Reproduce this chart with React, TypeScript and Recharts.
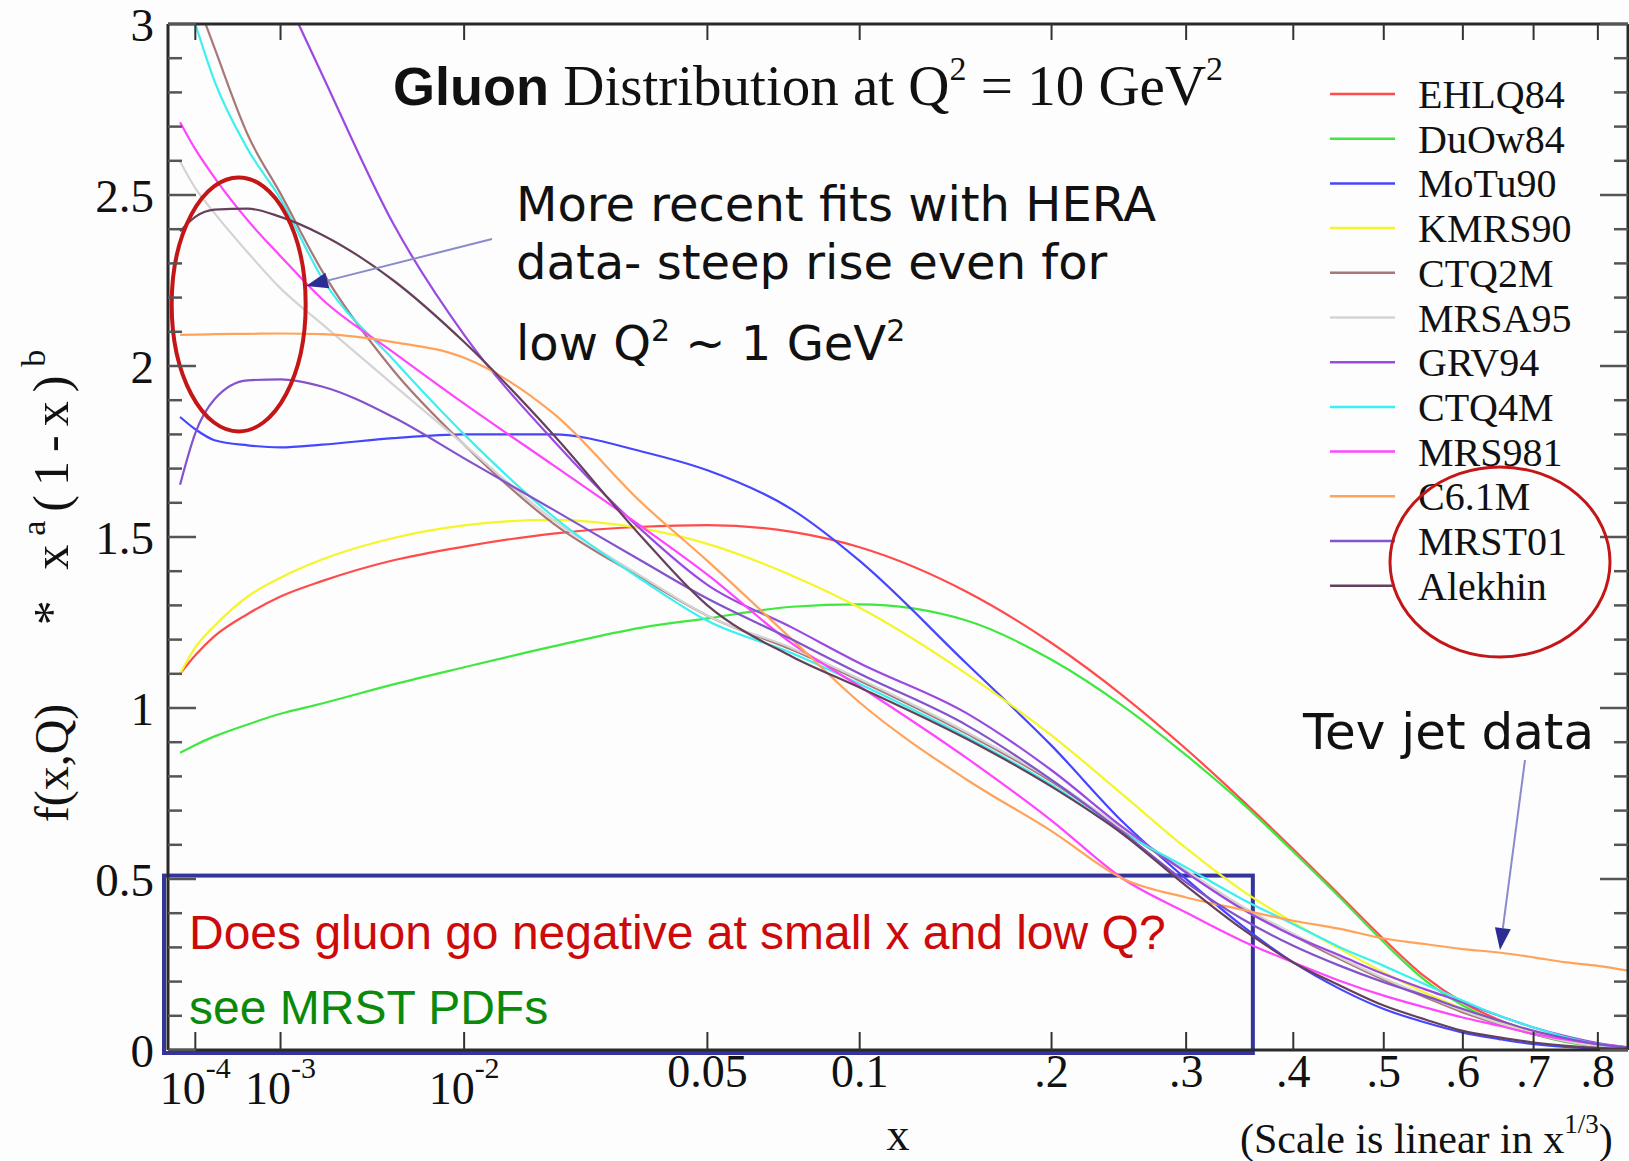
import React from 'react';
import { LineChart, Line, XAxis, YAxis, ReferenceArea, ReferenceDot } from 'recharts';

type Pt = [number, number];

// gluon x*g(x) at Q^2 = 10 GeV^2, points are [x, value]
const ehlq84: Pt[] = [
  [5e-5, 1.1], [1e-4, 1.154], [2e-4, 1.21], [5e-4, 1.275], [1e-3, 1.326], [2e-3, 1.371], [5e-3, 1.432],
  [0.01, 1.472], [0.02, 1.51], [0.035, 1.53], [0.05, 1.535], [0.075, 1.515], [0.1, 1.47], [0.15, 1.34],
  [0.2, 1.19], [0.25, 1.035], [0.3, 0.88], [0.35, 0.73], [0.4, 0.587], [0.45, 0.451], [0.5, 0.324],
  [0.55, 0.215], [0.6, 0.139], [0.65, 0.088], [0.7, 0.052], [0.75, 0.027], [0.8, 0.012], [0.85, 0.005],
];
const duow84: Pt[] = [
  [5e-5, 0.869], [1e-4, 0.892], [2e-4, 0.917], [5e-4, 0.952], [1e-3, 0.983], [2e-3, 1.013], [5e-3, 1.069],
  [0.01, 1.119], [0.02, 1.18], [0.035, 1.235], [0.05, 1.262], [0.075, 1.296], [0.1, 1.303], [0.15, 1.256],
  [0.2, 1.141], [0.25, 1.005], [0.3, 0.862], [0.35, 0.722], [0.4, 0.58], [0.45, 0.445], [0.5, 0.315],
  [0.55, 0.205], [0.6, 0.13], [0.65, 0.08], [0.7, 0.046], [0.75, 0.023], [0.8, 0.01], [0.85, 0.004],
];
const motu90: Pt[] = [
  [5e-5, 1.851], [1e-4, 1.815], [2e-4, 1.783], [5e-4, 1.768], [1e-3, 1.762], [2e-3, 1.77], [5e-3, 1.789],
  [0.01, 1.8], [0.02, 1.8], [0.035, 1.75], [0.05, 1.695], [0.075, 1.58], [0.1, 1.43], [0.15, 1.13],
  [0.2, 0.89], [0.25, 0.665], [0.3, 0.5], [0.35, 0.363], [0.4, 0.256], [0.45, 0.178], [0.5, 0.12],
  [0.55, 0.081], [0.6, 0.051], [0.65, 0.032], [0.7, 0.017], [0.75, 0.009], [0.8, 0.004], [0.85, 0.002],
];
const kmrs90: Pt[] = [
  [5e-5, 1.1], [1e-4, 1.177], [2e-4, 1.24], [5e-4, 1.326], [1e-3, 1.381], [2e-3, 1.434], [5e-3, 1.497],
  [0.01, 1.534], [0.02, 1.55], [0.035, 1.525], [0.05, 1.48], [0.075, 1.387], [0.1, 1.293], [0.15, 1.1],
  [0.2, 0.92], [0.25, 0.745], [0.3, 0.59], [0.35, 0.466], [0.4, 0.373], [0.45, 0.295], [0.5, 0.227],
  [0.55, 0.168], [0.6, 0.12], [0.65, 0.081], [0.7, 0.051], [0.75, 0.03], [0.8, 0.014], [0.85, 0.007],
];
const ctq2m: Pt[] = [
  [1.48e-4, 3.0], [2e-4, 2.93], [5e-4, 2.676], [1e-3, 2.504], [2e-3, 2.279], [5e-3, 1.987],
  [0.01, 1.77], [0.02, 1.54], [0.035, 1.38], [0.05, 1.27], [0.075, 1.17], [0.1, 1.08], [0.15, 0.925],
  [0.2, 0.785], [0.25, 0.64], [0.3, 0.52], [0.35, 0.415], [0.4, 0.335], [0.45, 0.265], [0.5, 0.205],
  [0.55, 0.155], [0.6, 0.11], [0.65, 0.075], [0.7, 0.046], [0.75, 0.025], [0.8, 0.011], [0.85, 0.004],
];
const mrsa95: Pt[] = [
  [5e-5, 2.598], [1e-4, 2.52], [2e-4, 2.447], [5e-4, 2.332], [1e-3, 2.227], [2e-3, 2.123], [5e-3, 1.945],
  [0.01, 1.77], [0.02, 1.55], [0.035, 1.385], [0.05, 1.27], [0.075, 1.175], [0.1, 1.085], [0.15, 0.93],
  [0.2, 0.79], [0.25, 0.645], [0.3, 0.525], [0.35, 0.42], [0.4, 0.34], [0.45, 0.27], [0.5, 0.21],
  [0.55, 0.16], [0.6, 0.115], [0.65, 0.078], [0.7, 0.048], [0.75, 0.026], [0.8, 0.011], [0.85, 0.004],
];
const grv94: Pt[] = [
  [1.38e-3, 3.0], [2e-3, 2.854], [5e-3, 2.415], [0.01, 2.091], [0.02, 1.783], [0.035, 1.52], [0.05, 1.36],
  [0.075, 1.235], [0.1, 1.131], [0.15, 0.985], [0.2, 0.818], [0.25, 0.65], [0.3, 0.519], [0.35, 0.412],
  [0.4, 0.334], [0.45, 0.276], [0.5, 0.222], [0.55, 0.178], [0.6, 0.139], [0.65, 0.1], [0.7, 0.066],
  [0.75, 0.04], [0.8, 0.02], [0.85, 0.008],
];
const ctq4m: Pt[] = [
  [1e-4, 3.0], [2e-4, 2.833], [5e-4, 2.634], [1e-3, 2.488], [2e-3, 2.258], [5e-3, 2.018], [0.01, 1.8],
  [0.02, 1.56], [0.035, 1.375], [0.05, 1.255], [0.075, 1.16], [0.1, 1.07], [0.15, 0.915], [0.2, 0.775],
  [0.25, 0.635], [0.3, 0.534], [0.35, 0.441], [0.4, 0.368], [0.45, 0.3], [0.5, 0.246], [0.55, 0.193],
  [0.6, 0.144], [0.65, 0.1], [0.7, 0.066], [0.75, 0.037], [0.8, 0.017], [0.85, 0.006],
];
const mrs981: Pt[] = [
  [5e-5, 2.713], [1e-4, 2.634], [2e-4, 2.551], [5e-4, 2.426], [1e-3, 2.321], [2e-3, 2.196], [5e-3, 2.04],
  [0.01, 1.89], [0.02, 1.71], [0.035, 1.53], [0.05, 1.39], [0.075, 1.188], [0.1, 1.063], [0.15, 0.854],
  [0.2, 0.671], [0.25, 0.5], [0.3, 0.402], [0.35, 0.319], [0.4, 0.256], [0.45, 0.202], [0.5, 0.159],
  [0.55, 0.125], [0.6, 0.095], [0.65, 0.071], [0.7, 0.047], [0.75, 0.03], [0.8, 0.017], [0.85, 0.008],
];
const c61m: Pt[] = [
  [5e-5, 2.091], [1e-4, 2.092], [2e-4, 2.093], [5e-4, 2.094], [1e-3, 2.095], [2e-3, 2.093], [5e-3, 2.07],
  [0.01, 2.024], [0.02, 1.862], [0.035, 1.6], [0.05, 1.43], [0.075, 1.2], [0.1, 1.016], [0.15, 0.791],
  [0.2, 0.64], [0.25, 0.5], [0.3, 0.446], [0.35, 0.41], [0.4, 0.378], [0.45, 0.354], [0.5, 0.326],
  [0.55, 0.31], [0.6, 0.295], [0.65, 0.285], [0.7, 0.271], [0.75, 0.256], [0.8, 0.246], [0.85, 0.232],
];
const mrst01: Pt[] = [
  [5e-5, 1.653], [1e-4, 1.804], [2e-4, 1.903], [5e-4, 1.958], [1e-3, 1.961], [2e-3, 1.94], [5e-3, 1.85],
  [0.01, 1.73], [0.02, 1.58], [0.035, 1.43], [0.05, 1.32], [0.075, 1.2], [0.1, 1.1], [0.15, 0.95],
  [0.2, 0.79], [0.25, 0.635], [0.3, 0.49], [0.35, 0.383], [0.4, 0.305], [0.45, 0.246], [0.5, 0.198],
  [0.55, 0.159], [0.6, 0.12], [0.65, 0.086], [0.7, 0.056], [0.75, 0.034], [0.8, 0.017], [0.85, 0.007],
];
const alekhin: Pt[] = [
  [5e-5, 2.394], [1e-4, 2.436], [2e-4, 2.457], [5e-4, 2.46], [1e-3, 2.436], [2e-3, 2.384], [5e-3, 2.25],
  [0.01, 2.07], [0.02, 1.8], [0.035, 1.5], [0.05, 1.3], [0.075, 1.15], [0.1, 1.06], [0.15, 0.91],
  [0.2, 0.77], [0.25, 0.63], [0.3, 0.48], [0.35, 0.354], [0.4, 0.256], [0.45, 0.188], [0.5, 0.13],
  [0.55, 0.09], [0.6, 0.056], [0.65, 0.037], [0.7, 0.022], [0.75, 0.012], [0.8, 0.006], [0.85, 0.004],
];

const SERIES = [
  { name: 'EHLQ84', color: '#ff4b4b', points: ehlq84 },
  { name: 'DuOw84', color: '#3fe83f', points: duow84 },
  { name: 'MoTu90', color: '#4646ff', points: motu90 },
  { name: 'KMRS90', color: '#f5f52a', points: kmrs90 },
  { name: 'CTQ2M', color: '#a87777', points: ctq2m },
  { name: 'MRSA95', color: '#d4d4d4', points: mrsa95 },
  { name: 'GRV94', color: '#9a4ae0', points: grv94 },
  { name: 'CTQ4M', color: '#3cf0f0', points: ctq4m },
  { name: 'MRS981', color: '#ff45ff', points: mrs981 },
  { name: 'C6.1M', color: '#ffa35a', points: c61m },
  { name: 'MRST01', color: '#8353cc', points: mrst01 },
  { name: 'Alekhin', color: '#66405a', points: alekhin },
];

// x axis is linear in x^(1/3)
const toU = (x: number) => Math.cbrt(x);
const X_MIN = 2.5e-5;
const X_MAX = 0.85;

const X_TICKS = [1e-4, 1e-3, 1e-2, 0.05, 0.1, 0.2, 0.3, 0.4, 0.5, 0.6, 0.7, 0.8];
const X_TICK_LABELS = ['10^-4', '10^-3', '10^-2', '0.05', '0.1', '.2', '.3', '.4', '.5', '.6', '.7', '.8'];
const Y_MAJOR = [0, 0.5, 1, 1.5, 2, 2.5, 3];
const Y_LABELS = ['0', '0.5', '1', '1.5', '2', '2.5', '3'];
const Y_MINOR = Array.from({ length: 31 }, (_, i) => i / 10);

const SERIF = '"Liberation Serif", "Times New Roman", serif';
const SANS = '"Liberation Sans", Arial, sans-serif';
const TAHOMA = '"DejaVu Sans", Verdana, sans-serif';
const AXIS = '#2a2a2a';
const TICK = '#555';

const isMajor = (v: number) => Y_MAJOR.some((m) => Math.abs(m - v) < 1e-6);

const LeftTick = (p: any) => {
  const v = p.payload.value;
  const ax = p.x + 14;
  const i = Y_MAJOR.findIndex((m) => Math.abs(m - v) < 1e-6);
  return (
    <g>
      <line x1={ax} x2={ax + (i >= 0 ? 28 : 14)} y1={p.y} y2={p.y} stroke={TICK} strokeWidth={2.5} />
      {i >= 0 && (
        <text x={p.x} y={p.y + 17} textAnchor="end" fontFamily={SERIF} fontSize={47} fill="#111">
          {Y_LABELS[i]}
        </text>
      )}
    </g>
  );
};

const RightTick = (p: any) => {
  const v = p.payload.value;
  return (
    <line x1={p.x} x2={p.x - (isMajor(v) ? 28 : 14)} y1={p.y} y2={p.y} stroke={TICK} strokeWidth={2.5} />
  );
};

const BottomTick = (p: any) => {
  const i = X_TICKS.findIndex((t) => Math.abs(toU(t) - p.payload.value) < 1e-9);
  const label = X_TICK_LABELS[i] ?? '';
  const ay = p.y - 10;
  const [base, sup] = label.split('^');
  return (
    <g>
      <line x1={p.x} x2={p.x} y1={ay} y2={ay - 18} stroke="#333" strokeWidth={2} />
      {sup ? (
        <text x={p.x} y={ay + 54} textAnchor="middle" fontFamily={SERIF} fontSize={46} fill="#111">
          {base}
          <tspan dy={-26} fontSize={30}>{sup}</tspan>
        </text>
      ) : (
        <text x={p.x} y={ay + 37} textAnchor="middle" fontFamily={SERIF} fontSize={46} fill="#111">
          {base}
        </text>
      )}
    </g>
  );
};

const TopTick = (p: any) => (
  <line x1={p.x} x2={p.x} y1={p.y} y2={p.y + 16} stroke="#333" strokeWidth={2} />
);

const RegionEllipse = (p: any) => (
  <ellipse cx={p.cx} cy={p.cy} rx={67} ry={127} fill="none" stroke="#c41616" strokeWidth={4} />
);

const NegativeBox = (p: any) => (
  <rect x={p.x - 4} y={p.y} width={p.width + 4} height={p.height + 3} fill="none" stroke="#34349a" strokeWidth={4} />
);

function Arrow({ x1, y1, x2, y2 }: { x1: number; y1: number; x2: number; y2: number }) {
  const a = Math.atan2(y2 - y1, x2 - x1);
  const len = 22;
  const w = 8;
  const bx = x2 - len * Math.cos(a);
  const by = y2 - len * Math.sin(a);
  const nx = -Math.sin(a) * w;
  const ny = Math.cos(a) * w;
  return (
    <g>
      <line x1={x1} y1={y1} x2={bx} y2={by} stroke="#8a8acc" strokeWidth={2} />
      <polygon points={`${x2},${y2} ${bx + nx},${by + ny} ${bx - nx},${by - ny}`} fill="#2c2c94" />
    </g>
  );
}

export default function App() {
  const uTicks = X_TICKS.map(toU);
  return (
    <div style={{ position: 'absolute', left: 0, top: 0, width: 1629, height: 1161, background: '#fdfdfd' }}>
      <LineChart width={1629} height={1161} margin={{ top: 0, right: 0, bottom: 0, left: 0 }}>
        <XAxis
          xAxisId="b"
          dataKey="u"
          type="number"
          domain={[toU(X_MIN), toU(X_MAX)]}
          allowDataOverflow
          ticks={uTicks}
          height={111}
          tickSize={0}
          tickMargin={10}
          interval={0}
          axisLine={{ stroke: AXIS, strokeWidth: 3 }}
          tickLine={false}
          tick={(p: any) => <BottomTick {...p} />}
        />
        <XAxis
          xAxisId="t"
          orientation="top"
          dataKey="u"
          type="number"
          domain={[toU(X_MIN), toU(X_MAX)]}
          allowDataOverflow
          ticks={uTicks}
          height={24}
          tickSize={0}
          tickMargin={0}
          interval={0}
          axisLine={{ stroke: AXIS, strokeWidth: 3 }}
          tickLine={false}
          tick={(p: any) => <TopTick {...p} />}
        />
        <YAxis
          yAxisId="l"
          type="number"
          domain={[0, 3]}
          allowDataOverflow
          ticks={Y_MINOR}
          width={168}
          tickSize={0}
          tickMargin={14}
          interval={0}
          axisLine={{ stroke: AXIS, strokeWidth: 3 }}
          tickLine={false}
          tick={(p: any) => <LeftTick {...p} />}
        />
        <YAxis
          yAxisId="r"
          orientation="right"
          type="number"
          domain={[0, 3]}
          allowDataOverflow
          ticks={Y_MINOR}
          width={1}
          tickSize={0}
          tickMargin={0}
          interval={0}
          axisLine={{ stroke: AXIS, strokeWidth: 3 }}
          tickLine={false}
          tick={(p: any) => <RightTick {...p} />}
        />
        {SERIES.map((s) => (
          <Line
            key={s.name}
            xAxisId="b"
            yAxisId="l"
            name={s.name}
            data={s.points.map(([x, f]) => ({ u: toU(x), f }))}
            dataKey="f"
            type="monotone"
            stroke={s.color}
            strokeWidth={2.2}
            dot={false}
            activeDot={false}
            isAnimationActive={false}
          />
        ))}
        <ReferenceDot
          xAxisId="b"
          yAxisId="l"
          x={toU(4e-4)}
          y={2.18}
          ifOverflow="visible"
          shape={(p: any) => <RegionEllipse {...p} />}
        />
        <ReferenceArea
          xAxisId="b"
          yAxisId="l"
          x1={toU(X_MIN)}
          x2={toU(0.36)}
          y1={0}
          y2={0.51}
          ifOverflow="visible"
          shape={(p: any) => <NegativeBox {...p} />}
        />
      </LineChart>

      <svg
        width={1629}
        height={1161}
        style={{ position: 'absolute', left: 0, top: 0, pointerEvents: 'none' }}
      >
        <text x={393} y={105} fill="#111">
          <tspan fontFamily={SANS} fontWeight="bold" fontSize={54}>Gluon</tspan>
          <tspan fontFamily={SERIF} fontSize={57}> Distribution at Q</tspan>
          <tspan fontFamily={SERIF} fontSize={34} dy={-25}>2</tspan>
          <tspan fontFamily={SERIF} fontSize={57} dy={25}> = 10 GeV</tspan>
          <tspan fontFamily={SERIF} fontSize={34} dy={-25}>2</tspan>
        </text>

        <g fontFamily={TAHOMA} fill="#111">
          <text x={516} y={221} fontSize={48}>More recent fits with HERA</text>
          <text x={516} y={279} fontSize={48}>data- steep rise even for</text>
          <text x={516} y={360} fontSize={48}>
            low Q<tspan fontSize={30} dy={-19}>2</tspan>
            <tspan dy={19}> ~ 1 GeV</tspan>
            <tspan fontSize={30} dy={-19}>2</tspan>
          </text>
          <text x={1303} y={749} fontSize={50}>Tev jet data</text>
        </g>
        <Arrow x1={492} y1={239} x2={306} y2={286} />
        <Arrow x1={1525} y1={760} x2={1500} y2={950} />

        <text x={189} y={949} fontFamily={SANS} fontSize={48} fill="#cc0a0a">
          Does gluon go negative at small x and low Q?
        </text>
        <text x={189} y={1024} fontFamily={SANS} fontSize={48} fill="#0a8a0a">
          see MRST PDFs
        </text>

        {SERIES.map((s, i) => (
          <g key={s.name}>
            <line x1={1330} x2={1395} y1={94 + i * 44.7} y2={94 + i * 44.7} stroke={s.color} strokeWidth={2.5} />
            <text x={1418} y={94 + i * 44.7 + 14} fontFamily={SERIF} fontSize={40} fill="#111">
              {s.name}
            </text>
          </g>
        ))}
        <ellipse cx={1500} cy={562} rx={110} ry={95} fill="none" stroke="#c41616" strokeWidth={3} />

        <text transform="translate(68,763) rotate(-90)" textAnchor="middle" fontFamily={SERIF} fontSize={48} fill="#111">
          f(x,Q)
        </text>
        <text
          transform="translate(68,483) rotate(-90)"
          textAnchor="middle"
          fontFamily={SERIF}
          fontSize={50}
          letterSpacing={9}
          fill="#111"
        >
          * x<tspan fontSize={34} dy={-23}>a</tspan>
          <tspan dy={23}>(1-x)</tspan>
          <tspan fontSize={34} dy={-23}>b</tspan>
        </text>

        <text x={898} y={1150} textAnchor="middle" fontFamily={SERIF} fontSize={46} fill="#111">x</text>
        <text x={1240} y={1153} fontFamily={SERIF} fontSize={42} fill="#111">
          (Scale is linear in x<tspan fontSize={27} dy={-20}>1/3</tspan>
          <tspan dy={20}>)</tspan>
        </text>
      </svg>
    </div>
  );
}
